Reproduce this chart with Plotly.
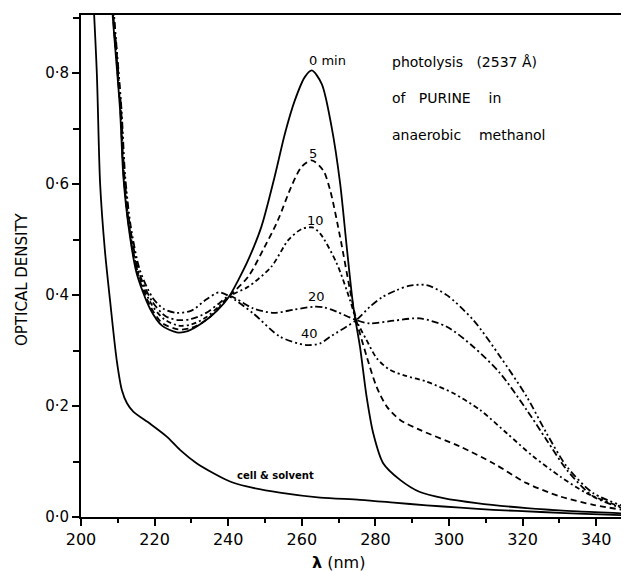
import plotly.graph_objects as go

# ---------------- data ----------------
cell_wl = [203.0, 204.3, 205.2, 206.5, 207.9, 209.7, 211.1, 212.5, 214.2, 218.8, 223.3, 226.9,
           231.4, 236.0, 240.5, 245.0, 254.0, 265.0, 275.8, 285.0, 293.9, 303.0, 312.0, 325.0,
           335.0, 349.0]
cell_od = [0.98, 0.80, 0.60, 0.48, 0.39, 0.283, 0.229, 0.205, 0.19, 0.168, 0.145, 0.121,
           0.097, 0.079, 0.064, 0.055, 0.044, 0.035, 0.031, 0.026, 0.021, 0.017, 0.013, 0.009,
           0.006, 0.003]

t0_wl = [207.8, 208.6, 210.6, 211.5, 212.9, 215.1, 218.8, 222.0, 226.0, 229.0, 233.0, 237.0,
         240.3, 242.8, 245.4, 249.0, 252.6, 255.4, 258.1, 260.8, 262.7, 265.4, 268.1, 270.4,
         272.2, 274.0, 275.8, 277.6, 279.4, 282.1, 286.7, 292.1, 298.5, 307.5, 321.1, 335.0,
         349.0]
t0_od = [1.0, 0.905, 0.735, 0.615, 0.525, 0.44, 0.375, 0.345, 0.333, 0.335, 0.35, 0.372,
         0.398, 0.428, 0.463, 0.523, 0.613, 0.691, 0.751, 0.793, 0.805, 0.781, 0.703, 0.602,
         0.487, 0.379, 0.307, 0.217, 0.151, 0.097, 0.067, 0.045, 0.034, 0.025, 0.016, 0.010,
         0.006]

t5_wl = [207.9, 208.7, 210.7, 211.6, 213.0, 215.3, 219.0, 222.0, 226.5, 230.0, 234.0, 237.5,
         240.3, 245.4, 249.9, 253.5, 257.1, 259.9, 262.7, 265.8, 267.7, 270.4, 273.1, 274.8,
         277.6, 280.3, 283.1, 286.7, 292.1, 303.0, 312.0, 321.1, 330.2, 339.2, 349.0]
t5_od = [1.0, 0.905, 0.735, 0.615, 0.525, 0.44, 0.378, 0.35, 0.338, 0.341, 0.355, 0.377,
         0.398, 0.433, 0.487, 0.535, 0.595, 0.631, 0.643, 0.625, 0.589, 0.505, 0.409, 0.355,
         0.29, 0.235, 0.199, 0.175, 0.157, 0.127, 0.097, 0.061, 0.037, 0.022, 0.011]

t10_wl = [208.0, 208.8, 210.8, 211.7, 213.1, 215.5, 219.3, 222.5, 226.5, 230.0, 234.0, 237.5,
          240.3, 245.4, 251.7, 256.3, 259.9, 262.9, 265.0, 269.5, 273.1, 274.8, 277.5, 280.5,
          284.0, 288.0, 293.9, 301.2, 308.4, 315.7, 322.9, 330.2, 337.4, 346.5, 349.0]
t10_od = [1.0, 0.905, 0.735, 0.615, 0.525, 0.44, 0.382, 0.357, 0.345, 0.347, 0.36, 0.38,
          0.398, 0.415, 0.451, 0.499, 0.519, 0.522, 0.511, 0.457, 0.391, 0.355, 0.32, 0.285,
          0.265, 0.255, 0.244, 0.223, 0.193, 0.151, 0.109, 0.073, 0.043, 0.019, 0.015]

t20_wl = [208.1, 208.9, 210.9, 211.8, 213.3, 215.8, 219.5, 223.0, 226.5, 230.0, 234.0, 237.5,
          240.3, 246.8, 252.3, 258.0, 263.1, 266.0, 269.5, 274.8, 278.5, 285.0, 292.1, 299.4,
          306.6, 313.9, 321.1, 326.5, 332.0, 339.2, 349.0]
t20_od = [1.0, 0.905, 0.735, 0.615, 0.525, 0.44, 0.387, 0.362, 0.355, 0.357, 0.368, 0.385,
          0.398, 0.376, 0.368, 0.374, 0.379, 0.378, 0.370, 0.355, 0.349, 0.354, 0.358, 0.343,
          0.307, 0.259, 0.193, 0.139, 0.085, 0.037, 0.012]

t40_wl = [208.2, 209.0, 211.0, 212.0, 213.5, 216.0, 219.5, 222.5, 226.0, 230.0, 234.0, 237.5,
          240.3, 246.8, 254.1, 261.3, 265.0, 267.7, 274.8, 278.5, 282.0, 285.8, 289.4, 293.9,
          299.4, 306.6, 313.9, 321.1, 326.5, 332.0, 339.2, 349.0]
t40_od = [1.0, 0.905, 0.735, 0.615, 0.525, 0.445, 0.395, 0.375, 0.368, 0.372, 0.392, 0.405,
          0.398, 0.367, 0.325, 0.310, 0.313, 0.325, 0.355, 0.379, 0.397, 0.409, 0.417, 0.418,
          0.40, 0.355, 0.289, 0.217, 0.151, 0.091, 0.043, 0.016]

x_ticks = [200, 220, 240, 260, 280, 300, 320, 340]
y_ticks = [0.0, 0.2, 0.4, 0.6, 0.8]
y_ticklabels = ["0·0", "0·2", "0·4", "0·6", "0·8"]

curve_labels = ["0 min", "5", "10", "20", "40"]
label_pos = [(261.3, 0.823), (263.0, 0.656), (263.6, 0.534), (264.0, 0.397), (262.0, 0.330)]

NB = "\u00a0"
title_lines = ["photolysis" + NB * 3 + "(2537 Å)",
               "of" + NB * 3 + "PURINE" + NB * 4 + "in",
               "anaerobic" + NB * 4 + "methanol"]
title_y = [0.82, 0.755, 0.688]

FONT = "DejaVu Sans"

fig = go.Figure()

series = [
    ("cell & solvent", cell_wl, cell_od, "solid"),
    ("0 min", t0_wl, t0_od, "solid"),
    ("5 min", t5_wl, t5_od, "6px,4px"),
    ("10 min", t10_wl, t10_od, "2px,3px,5px,3px"),
    ("20 min", t20_wl, t20_od, "7px,3px,2px,3px"),
    ("40 min", t40_wl, t40_od, "7px,3px,2px,3px,2px,3px"),
]
for name, xs, ys, dash in series:
    fig.add_trace(go.Scatter(
        x=xs, y=ys, mode="lines", name=name, showlegend=False,
        line=dict(color="black", width=1.8, dash=dash, shape="spline", smoothing=0.8),
    ))

# curve labels
for i, (txt, (lx, ly)) in enumerate(zip(curve_labels, label_pos)):
    fig.add_annotation(x=lx, y=ly, text=txt, showarrow=False,
                       xanchor="left" if i == 0 else "center", yanchor="middle",
                       font=dict(family=FONT, size=13, color="black"))

fig.add_annotation(x=241.8, y=0.0757, text="<b>cell & solvent</b>", showarrow=False,
                   xanchor="left", yanchor="middle",
                   font=dict(family=FONT, size=10, color="black"))

for txt, yy in zip(title_lines, title_y):
    fig.add_annotation(x=284.0, y=yy, text=txt, showarrow=False,
                       xanchor="left", yanchor="middle",
                       font=dict(family=FONT, size=14, color="black"))

# axis titles
fig.add_annotation(xref="paper", yref="paper", x=-0.1077, y=0.474, text="OPTICAL DENSITY",
                   textangle=-90, showarrow=False, xanchor="center", yanchor="middle",
                   font=dict(family=FONT, size=15, color="black"))
fig.add_annotation(xref="paper", yref="paper", x=0.469, y=-0.09,
                   text="<b>λ</b> (nm)", showarrow=False, xanchor="center", yanchor="middle",
                   font=dict(family=FONT, size=16, color="black"))

# page body has an 8px margin, so the figure is shifted by 8px; size accordingly
fig.update_layout(
    width=621, height=563,
    margin=dict(l=73, r=0, t=7, b=54),
    paper_bgcolor="white", plot_bgcolor="white",
    font=dict(family=FONT, color="black"),
)
fig.update_xaxes(
    range=[200, 348.9], tickvals=x_ticks, ticks="outside", ticklen=7, tickwidth=1.5,
    tickcolor="black", showline=True, linecolor="black", linewidth=2, mirror=True,
    showgrid=False, zeroline=False, tickfont=dict(family=FONT, size=16, color="black"),
    minor=dict(dtick=10, tick0=200, ticks="outside", ticklen=4, tickcolor="black", tickwidth=1.5),
)
fig.update_yaxes(
    range=[0, 0.905], tickvals=y_ticks, ticktext=y_ticklabels, ticks="outside", ticklen=7,
    tickwidth=1.5, tickcolor="black", showline=True, linecolor="black", linewidth=2,
    showgrid=False, zeroline=False, tickfont=dict(family=FONT, size=15, color="black"),
    minor=dict(dtick=0.1, tick0=0, ticks="outside", ticklen=6, tickcolor="black", tickwidth=1.5),
)

fig.write_html("out.html")
